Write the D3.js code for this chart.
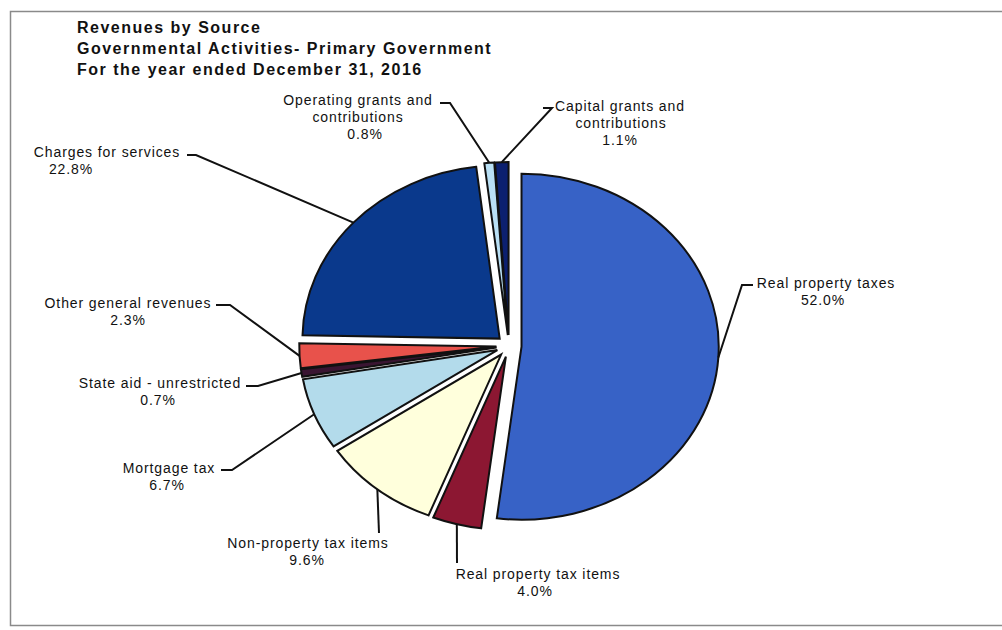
<!DOCTYPE html>
<html lang="en">
  <head>
    <meta charset="UTF-8" />
    <title>Revenues by Source</title>
    <style>
      body {
        margin: 0;
        background: #fff;
      }
      svg {
        display: block;
        font-family: "Liberation Sans", Arial, sans-serif;
      }
      .title {
        font-size: 16px;
        font-weight: bold;
        letter-spacing: 1.5px;
        fill: #111;
      }
      .label {
        font-size: 14px;
        letter-spacing: 0.9px;
        fill: #111;
      }
      .slice path {
        stroke: #111;
        stroke-width: 2px;
        vector-effect: non-scaling-stroke;
      }
      .leader {
        fill: none;
        stroke: #111;
        stroke-width: 2px;
      }
    </style>
  </head>
  <body>
    <div class="chart"></div>

    <script src="https://d3js.org/d3.v7.min.js"></script>

    <script>
      // data, clockwise from 12 o'clock
      const categories = [
        "Real property taxes",
        "Real property tax items",
        "Non-property tax items",
        "Mortgage tax",
        "State aid - unrestricted",
        "Other general revenues",
        "Charges for services",
        "Operating grants and contributions",
        "Capital grants and contributions",
      ];
      const values = [52.0, 4.0, 9.6, 6.7, 0.7, 2.3, 22.8, 0.8, 1.1];
      const titleLines = [
        "Revenues by Source",
        "Governmental Activities- Primary Government",
        "For the year ended December 31, 2016",
      ];

      // styles
      const colors = [
        "#3762c6",
        "#8c1732",
        "#ffffdc",
        "#b3dbeb",
        "#3a1532",
        "#e8524b",
        "#0a398c",
        "#b9e0f5",
        "#0c2070",
      ];

      // label layout: text lines, x per line, first line middle y, leader elbow + end
      const labelLayout = [
        { lines: ["Real property taxes", "52.0%"], x: [826, 823], y: 283, leader: [[742, 285], [753, 285]] },
        { lines: ["Real property tax items", "4.0%"], x: [538, 535], y: 574, leader: [[457, 563]] },
        { lines: ["Non-property tax items", "9.6%"], x: [308, 307], y: 543, leader: [[379, 533]] },
        { lines: ["Mortgage tax", "6.7%"], x: [169, 167], y: 468, leader: [[232, 470], [221, 470]] },
        { lines: ["State aid - unrestricted", "0.7%"], x: [160, 158], y: 383, leader: [[258, 386], [246, 386]] },
        { lines: ["Other general revenues", "2.3%"], x: [128, 128], y: 303, leader: [[230, 305], [216, 305]] },
        { lines: ["Charges for services", "22.8%"], x: [107, 71], y: 152, leader: [[196, 155], [187, 155]] },
        { lines: ["Operating grants and", "contributions", "0.8%"], x: [358, 358, 365], y: 100, leader: [[450, 103], [440, 103]] },
        { lines: ["Capital grants and", "contributions", "1.1%"], x: [620, 621, 620], y: 106, leader: [[552, 108], [543, 108]] },
      ];

      const width = 1002;
      const height = 630;
      const cx = 509;
      const cy = 346;
      const radius = 173;
      const stretch = 1.14; // pie is drawn a bit wider than tall
      const explode = 11;

      const svg = d3
        .select(".chart")
        .append("svg")
        .attr("width", width)
        .attr("height", height);

      // frame (right edge runs off the picture)
      svg
        .append("rect")
        .attr("x", 10.5)
        .attr("y", 11.5)
        .attr("width", 1010)
        .attr("height", 614)
        .attr("fill", "none")
        .attr("stroke", "#8a8a8a")
        .attr("stroke-width", 1.5);

      // title
      svg
        .append("g")
        .selectAll("text")
        .data(titleLines)
        .enter()
        .append("text")
        .attr("class", "title")
        .attr("x", 77)
        .attr("y", (d, i) => 33 + i * 21)
        .text((d) => d);

      const pie = d3
        .pie()
        .sort(null)
        .value((d) => d.value);

      const arcs = pie(categories.map((c, i) => ({ name: c, value: values[i] })));

      const arc = d3.arc().innerRadius(0).outerRadius(radius);

      const mid = (d) => (d.startAngle + d.endAngle) / 2;

      // offset for exploded slice, in screen space
      const shift = (d) => [
        explode * stretch * Math.sin(mid(d)),
        -explode * Math.cos(mid(d)),
      ];

      // point on the outer edge at the slice's middle angle, in screen space
      const edgePoint = (d) => {
        const s = shift(d);
        return [
          cx + s[0] + radius * stretch * Math.sin(mid(d)),
          cy + s[1] - radius * Math.cos(mid(d)),
        ];
      };

      const pieG = svg.append("g");

      pieG
        .selectAll("g.slice")
        .data(arcs)
        .enter()
        .append("g")
        .attr("class", "slice")
        .attr("transform", (d) => {
          const s = shift(d);
          return `translate(${cx + s[0]}, ${cy + s[1]}) scale(${stretch}, 1)`;
        })
        .append("path")
        .attr("d", arc)
        .attr("fill", (d, i) => colors[i]);

      // leader lines
      const line = d3.line();
      svg
        .append("g")
        .selectAll("path")
        .data(arcs)
        .enter()
        .append("path")
        .attr("class", "leader")
        .attr("d", (d, i) => line([edgePoint(d), ...labelLayout[i].leader]));

      // labels
      const labelG = svg
        .append("g")
        .selectAll("g")
        .data(labelLayout)
        .enter()
        .append("g");

      labelG
        .selectAll("text")
        .data((d) => d.lines.map((t, j) => ({ t, x: d.x[j], y: d.y + j * 17 })))
        .enter()
        .append("text")
        .attr("class", "label")
        .attr("x", (d) => d.x)
        .attr("y", (d) => d.y)
        .attr("dy", "0.35em")
        .attr("text-anchor", "middle")
        .text((d) => d.t);
    </script>
  </body>
</html>
